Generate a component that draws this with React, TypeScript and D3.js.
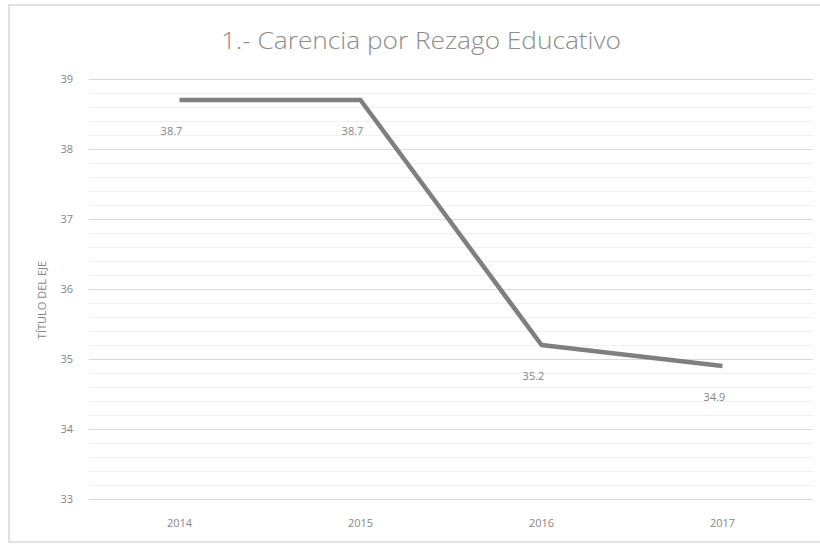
import React, { useEffect, useRef } from "react";
import * as d3 from "d3";

const width = 820;
const height = 544;

const years = ["2014", "2015", "2016", "2017"];
const values = [38.7, 38.7, 35.2, 34.9];
const yTicks = [33, 34, 35, 36, 37, 38, 39];
const title = "1.- Carencia por Rezago Educativo";
const axisTitle = "TÍTULO DEL EJE";

export default function App() {
  const chartRef = useRef<SVGSVGElement>(null);

  useEffect(() => {
    drawChart();
  }, []);

  const drawChart = () => {
    const svg = d3.select(chartRef.current);
    svg.selectAll("*").remove();

    const margin = { left: 89, right: 7, top: 79, bottom: 45 };
    const font = "'Open Sans', sans-serif";
    const textGrey = "#858585";

    // chart frame (right edge is cut off in the original)
    svg
      .append("rect")
      .attr("x", 9)
      .attr("y", 5)
      .attr("width", 860)
      .attr("height", 537)
      .attr("fill", "#fff")
      .attr("stroke", "#d9d9d9")
      .attr("stroke-width", 1.5);

    const x = d3
      .scaleBand()
      .domain(years)
      .range([margin.left, width - margin.right]);

    const y = d3
      .scaleLinear()
      .domain([33, 39])
      .range([height - margin.bottom, margin.top]);

    // minor gridlines every 0.2
    const minor = d3.range(33, 39.001, 0.2);
    svg
      .append("g")
      .selectAll("line")
      .data(minor)
      .join("line")
      .attr("x1", margin.left)
      .attr("x2", width - margin.right)
      .attr("y1", (d) => Math.round(y(d)) + 0.5)
      .attr("y2", (d) => Math.round(y(d)) + 0.5)
      .attr("stroke", "#f0f0f0")
      .attr("stroke-width", 1);

    // major gridlines
    svg
      .append("g")
      .selectAll("line")
      .data(yTicks)
      .join("line")
      .attr("x1", margin.left)
      .attr("x2", width - margin.right)
      .attr("y1", (d) => Math.round(y(d)) + 0.5)
      .attr("y2", (d) => Math.round(y(d)) + 0.5)
      .attr("stroke", "#d9d9d9")
      .attr("stroke-width", 1);

    // y tick labels
    svg
      .append("g")
      .selectAll("text")
      .data(yTicks)
      .join("text")
      .attr("x", 73)
      .attr("y", (d) => y(d))
      .attr("dy", "0.35em")
      .attr("text-anchor", "end")
      .attr("font-family", font)
      .attr("font-size", 11)
      .attr("fill", textGrey)
      .text((d) => d);

    // x tick labels
    svg
      .append("g")
      .selectAll("text")
      .data(years)
      .join("text")
      .attr("x", (d) => x(d)! + x.bandwidth() / 2)
      .attr("y", 527)
      .attr("text-anchor", "middle")
      .attr("font-family", font)
      .attr("font-size", 11)
      .attr("fill", textGrey)
      .text((d) => d);

    // axis title
    svg
      .append("text")
      .attr("transform", "translate(46,300) rotate(-90)")
      .attr("text-anchor", "middle")
      .attr("font-family", font)
      .attr("font-size", 11)
      .attr("fill", textGrey)
      .text(axisTitle);

    // chart title
    svg
      .append("text")
      .attr("x", 421)
      .attr("y", 49)
      .attr("text-anchor", "middle")
      .attr("font-family", font)
      .attr("font-size", 24)
      .attr("font-weight", 300)
      .attr("textLength", 400)
      .attr("lengthAdjust", "spacingAndGlyphs")
      .attr("fill", "#8c8c8c")
      .text(title);

    const line = d3
      .line<number>()
      .x((d, i) => x(years[i])! + x.bandwidth() / 2)
      .y((d) => y(d));

    svg
      .append("path")
      .datum(values)
      .attr("fill", "none")
      .attr("stroke", "#7f7f7f")
      .attr("stroke-width", 4.5)
      .attr("stroke-linejoin", "round")
      .attr("d", line);

    // data labels below points
    svg
      .append("g")
      .selectAll("text")
      .data(values)
      .join("text")
      .attr("x", (d, i) => x(years[i])! + x.bandwidth() / 2 - 8)
      .attr("y", (d) => y(d) + 35)
      .attr("text-anchor", "middle")
      .attr("font-family", font)
      .attr("font-size", 11)
      .attr("fill", textGrey)
      .text((d) => d.toFixed(1));
  };

  return (
    <svg
      ref={chartRef}
      width={width}
      height={height}
      style={{ position: "absolute", left: 0, top: 0 }}
    ></svg>
  );
}
